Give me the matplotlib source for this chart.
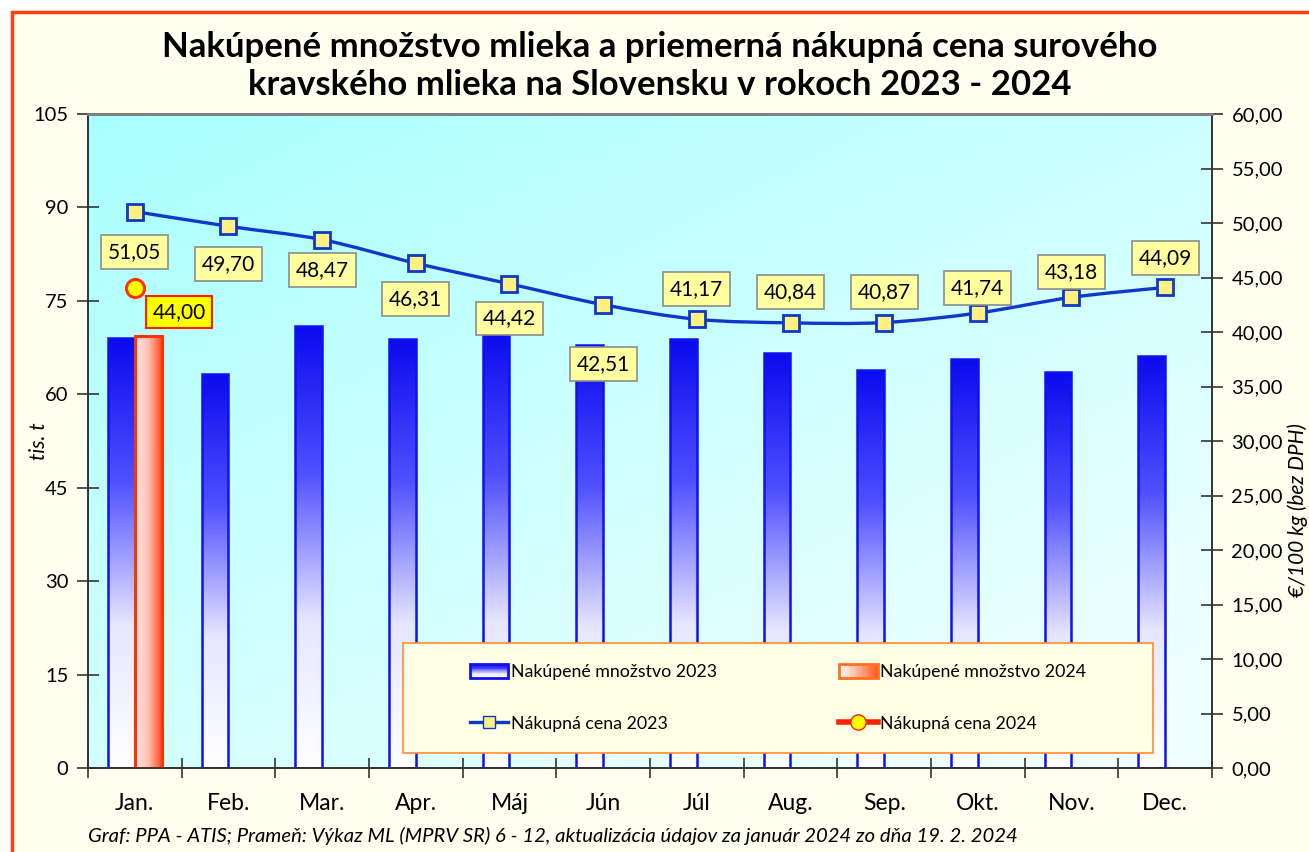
import matplotlib
matplotlib.use("Agg")
import matplotlib.pyplot as plt
import numpy as np
from matplotlib.path import Path
from matplotlib.patches import PathPatch, Rectangle, Patch
from matplotlib.lines import Line2D
from matplotlib.colors import LinearSegmentedColormap
from matplotlib.ticker import FuncFormatter, FixedLocator
from matplotlib.legend_handler import HandlerBase

plt.rcParams['font.family'] = ['Lato', 'DejaVu Sans']

# data
months = ["Jan.", "Feb.", "Mar.", "Apr.", "Máj", "Jún", "Júl", "Aug.", "Sep.", "Okt.", "Nov.", "Dec."]
qty_2023 = [69.0, 63.3, 71.0, 68.9, 70.3, 67.9, 68.9, 66.6, 63.9, 65.6, 63.6, 66.2]
qty_2024 = [69.4]
price_2023 = [51.05, 49.70, 48.47, 46.31, 44.42, 42.51, 41.17, 40.84, 40.87, 41.74, 43.18, 44.09]
price_2024 = [44.00]

title = "Nakúpené množstvo mlieka a priemerná nákupná cena surového\nkravského mlieka na Slovensku v rokoch 2023 - 2024"
footer = "Graf: PPA - ATIS; Prameň: Výkaz ML (MPRV SR) 6 - 12, aktualizácia údajov za január 2024 zo dňa 19. 2. 2024"

# label offsets (points) relative to markers
lbl_off = [(0, -29), (0, -27), (0, -22), (0, -26), (0, -25), (0, -43),
           (0, 22), (0, 22), (0, 22), (0, 18), (0, 18), (0, 21)]

blue_cmap = LinearSegmentedColormap.from_list("b", ["#FFFFFF", "#E6E6FF", "#5050FF", "#0A0AEE"])
red_cmap = LinearSegmentedColormap.from_list("r", ["#FFE8E8", "#FFC0B0", "#FF4A20"])


class GradHandler(HandlerBase):
    def __init__(self, cmap, edge, vertical):
        super().__init__()
        self.cmap, self.edge, self.vertical = cmap, edge, vertical

    def create_artists(self, legend, orig, xd, yd, width, height, fontsize, trans):
        arts = []
        n = 16
        for i in range(n):
            c = self.cmap((i + 0.5) / n)
            if self.vertical:
                r = Rectangle((-xd, -yd + height * i / n), width, height / n + 0.3, facecolor=c,
                              edgecolor="none", transform=trans)
            else:
                r = Rectangle((-xd + width * i / n, -yd), width / n + 0.3, height, facecolor=c,
                              edgecolor="none", transform=trans)
            arts.append(r)
        arts.append(Rectangle((-xd, -yd), width, height, facecolor="none", edgecolor=self.edge,
                              linewidth=2, transform=trans))
        return arts


W, H = 1309, 852
fig = plt.figure(figsize=(W / 100, H / 100), dpi=100, facecolor="white")
fig.patches.append(Rectangle((12 / W, -0.05), 1.2, 1 - 12 / H + 0.05, transform=fig.transFigure,
                             facecolor="#FFFFF0", edgecolor="#FF4010", linewidth=2.5, zorder=-10))

ax = fig.add_axes([88 / W, 84 / H, 1124 / W, 654 / H])
ax2 = ax.twinx()

# plot-area gradient
gx, gy = np.meshgrid(np.linspace(0, 1, 200), np.linspace(1, 0, 200))
t = np.clip(((1 - gy) * 0.6 + gx * 0.5), 0, 1)
c0 = np.array([0.66, 1.0, 1.0]); c1 = np.array([0.94, 1.0, 1.0])
bg = c0[None, None, :] * (1 - t[..., None]) + c1[None, None, :] * t[..., None]
ax.imshow(bg, extent=[0, 1, 0, 1], transform=ax.transAxes, aspect="auto", zorder=0, origin="upper")
ax.patch.set_visible(False)

x = np.arange(len(months))
bw = 0.285

bars23 = ax.bar(x - bw / 2, qty_2023, bw, facecolor="none", edgecolor="#1010F0", linewidth=1.8, zorder=3)
for b in bars23:
    bx, by, bwid, bh = b.get_x(), b.get_y(), b.get_width(), b.get_height()
    grad = np.linspace(0, 1, 256).reshape(-1, 1)
    im = ax.imshow(grad, extent=[bx, bx + bwid, by, by + bh], origin="lower", aspect="auto",
                   cmap=blue_cmap, zorder=2)
    im.set_clip_path(b)
bars24 = ax.bar(x[:1] + bw / 2, qty_2024, bw, facecolor="none", edgecolor="#FF3300", linewidth=2.2, zorder=3)
for b in bars24:
    bx, by, bwid, bh = b.get_x(), b.get_y(), b.get_width(), b.get_height()
    grad = np.linspace(0, 1, 256).reshape(1, -1)
    im = ax.imshow(grad, extent=[bx, bx + bwid, by, by + bh], origin="lower", aspect="auto",
                   cmap=red_cmap, zorder=2)
    im.set_clip_path(b)

ax.set_xlim(-0.5, 11.5)
ax.set_ylim(0, 105)
ax.set_yticks(np.arange(0, 106, 15))
ax.set_xticks(x)
ax.set_xticklabels(months, fontsize=16.5)
ax.xaxis.set_minor_locator(FixedLocator(np.arange(-0.5, 12, 1)))
ax.tick_params(axis="x", which="major", length=0, pad=18)
ax.tick_params(axis="x", which="minor", direction="inout", length=14, width=1.2, color="#333333")
ax.tick_params(axis="y", direction="inout", length=16, width=1.2, labelsize=14.5, pad=6, color="#333333")
ax.set_ylabel("tis. t", fontsize=15, style="italic")
ax.yaxis.set_label_coords(-0.035, 0.5)

ax2.set_ylim(0, 60)
ax2.set_yticks(np.arange(0, 61, 5))
ax2.yaxis.set_major_formatter(FuncFormatter(lambda v, p: f"{v:.2f}".replace(".", ",")))
ax2.tick_params(axis="y", direction="inout", length=16, width=1.2, labelsize=14.5, pad=6, color="#333333")
ax2.set_ylabel("€/100 kg (bez DPH)", fontsize=15, style="italic", rotation=90)
ax2.yaxis.set_label_coords(1.067, 0.395)

for a in (ax, ax2):
    for s in ("left", "right", "bottom"):
        a.spines[s].set_color("#333333")
        a.spines[s].set_linewidth(1.2)
    a.spines["top"].set_color("#808080")
    a.spines["top"].set_linewidth(2)

# smoothed price line (Bezier through the points)
P = np.column_stack([x, price_2023]).astype(float)
Pext = np.vstack([P[0], P, P[-1]])
verts = [tuple(P[0])]
codes = [Path.MOVETO]
for i in range(len(P) - 1):
    p0, p1, p2, p3 = Pext[i], Pext[i + 1], Pext[i + 2], Pext[i + 3]
    verts += [tuple(p1 + (p2 - p0) / 6), tuple(p2 - (p3 - p1) / 6), tuple(p2)]
    codes += [Path.CURVE4] * 3
ax2.add_patch(PathPatch(Path(verts, codes), facecolor="none", edgecolor="#1038C8", linewidth=2.4, zorder=4))
ax2.plot(x, price_2023, linestyle="none", marker="s", markersize=11, markerfacecolor="#FFF080",
         markeredgecolor="#1038C8", markeredgewidth=2, zorder=5)
ax2.plot(x[:1], price_2024, linestyle="none", marker="o", markersize=13, markerfacecolor="#FFFF00",
         markeredgecolor="#FF3300", markeredgewidth=2.2, zorder=5)

for xi, v, off in zip(x, price_2023, lbl_off):
    ax2.annotate(f"{v:.2f}".replace(".", ","), (xi, v), xytext=off, textcoords="offset points",
                 ha="center", va="center", fontsize=15, zorder=6,
                 bbox=dict(boxstyle="square,pad=0.33", facecolor="#FFFFA0", edgecolor="#8C8C8C", linewidth=1.2))
ax2.annotate(f"{price_2024[0]:.2f}".replace(".", ","), (x[0], price_2024[0]), xytext=(32, -17),
             textcoords="offset points", ha="center", va="center", fontsize=15, zorder=6,
             bbox=dict(boxstyle="square,pad=0.3", facecolor="#FFFF00", edgecolor="#FF2000", linewidth=1.5))

# legend box
ax2.add_patch(Rectangle((0.2802, 0.023), 0.6673, 0.168, transform=ax2.transAxes, facecolor="#FFFFE6",
                        edgecolor="#FF8C30", linewidth=1.2, zorder=9))
h_bar23 = Patch(label="bar23")
h_bar24 = Patch(label="bar24")
handles = [h_bar23,
           Line2D([], [], color="#1038C8", linewidth=2.4, marker="s", markersize=9,
                  markerfacecolor="#FFF080", markeredgecolor="#1038C8"),
           h_bar24,
           Line2D([], [], color="#FF2000", linewidth=4, marker="o", markersize=11,
                  markerfacecolor="#FFFF00", markeredgecolor="#FF2000")]
labels = ["Nakúpené množstvo 2023", "Nákupná cena 2023", "Nakúpené množstvo 2024", "Nákupná cena 2024"]
leg = ax2.legend(handles, labels, ncol=2, loc="center", bbox_to_anchor=(0.2802 + 0.6673 / 2, 0.023 + 0.084),
                 fontsize=12.8, frameon=False, labelspacing=2.0, handlelength=2.15, handleheight=0.8,
                 handletextpad=0.15, columnspacing=6.9,
                 handler_map={h_bar23: GradHandler(blue_cmap, "#1010F0", True),
                              h_bar24: GradHandler(LinearSegmentedColormap.from_list("lr", ["#FFFFFF", "#FFB090", "#FF5A20"]),
                                                   "#FF7020", False)})
leg.set_zorder(10)

fig.text(660 / W, 1 - 66 / H, title, ha="center", va="center", fontsize=25, fontweight="bold", linespacing=1.2)
fig.text(88 / W, 1 - 836 / H, footer, ha="left", va="center", fontsize=14.6, style="italic")

fig.savefig("out.png", dpi=100, facecolor=fig.get_facecolor())
